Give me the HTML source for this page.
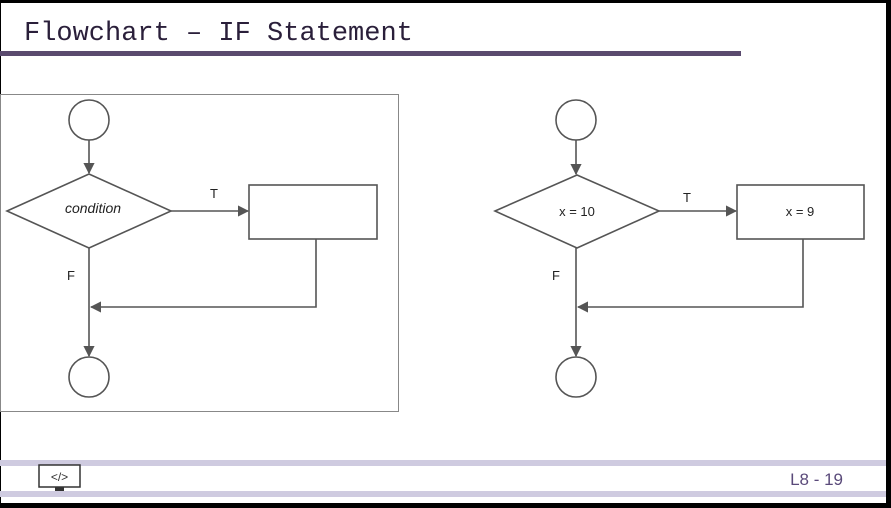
<!DOCTYPE html>
<html><head><meta charset="utf-8"><style>
html,body{margin:0;padding:0;background:#000;}
#slide{position:relative;width:891px;height:508px;overflow:hidden;background:#000;}
svg{position:absolute;left:0;top:0;}
</style></head><body>
<div id="slide">
<svg width="891" height="508" viewBox="0 0 891 508" font-family="Liberation Sans, sans-serif">
<defs><marker id="ah" viewBox="0 0 10 10" refX="9" refY="5" markerWidth="7" markerHeight="7" orient="auto"><path d="M0,0 L10,5 L0,10 z" fill="#555"/></marker></defs>
<rect x="1" y="3" width="885" height="500" fill="#fff"/>
<text x="24" y="40" font-family="Liberation Mono, monospace" font-size="27" fill="#2a1f3a">Flowchart – IF Statement</text>
<rect x="0" y="51" width="741" height="5" fill="#5a4a6e"/>
<g stroke="#555" stroke-width="1.6" fill="none">
<rect x="0.5" y="94.5" width="398" height="317" stroke="#888" stroke-width="1"/>
<circle cx="89" cy="120" r="20"/>
<line x1="89" y1="140" x2="89" y2="173" marker-end="url(#ah)"/>
<polygon points="7,211 89,174 171,211 89,248"/>
<line x1="171" y1="211" x2="248" y2="211" marker-end="url(#ah)"/>
<rect x="249" y="185" width="128" height="54"/>
<polyline points="316,239 316,307 91,307" marker-end="url(#ah)"/>
<line x1="89" y1="248" x2="89" y2="356" marker-end="url(#ah)"/>
<circle cx="89" cy="377" r="20"/>
</g>
<text x="93" y="213" text-anchor="middle" font-size="14" font-style="italic" fill="#222">condition</text>
<text x="214" y="198" text-anchor="middle" font-size="13" fill="#222">T</text>
<text x="71" y="280" text-anchor="middle" font-size="13" fill="#222">F</text>
<g stroke="#555" stroke-width="1.6" fill="none">
<circle cx="576" cy="120" r="20"/>
<line x1="576" y1="140" x2="576" y2="174" marker-end="url(#ah)"/>
<polygon points="495,211 577,175 659,211 577,248"/>
<line x1="659" y1="211" x2="736" y2="211" marker-end="url(#ah)"/>
<rect x="737" y="185" width="127" height="54"/>
<polyline points="803,239 803,307 578,307" marker-end="url(#ah)"/>
<line x1="576" y1="248" x2="576" y2="356" marker-end="url(#ah)"/>
<circle cx="576" cy="377" r="20"/>
</g>
<text x="577" y="216" text-anchor="middle" font-size="13" fill="#222">x = 10</text>
<text x="800" y="216" text-anchor="middle" font-size="13" fill="#222">x = 9</text>
<text x="687" y="202" text-anchor="middle" font-size="13" fill="#222">T</text>
<text x="556" y="280" text-anchor="middle" font-size="13" fill="#222">F</text>
<rect x="0" y="460" width="886" height="6" fill="#cfcbe0"/>
<rect x="0" y="491" width="886" height="6" fill="#cfcbe0"/>
<g>
<rect x="39" y="465" width="41" height="22" fill="#fff" stroke="#333" stroke-width="1.5"/>
<rect x="55" y="487" width="9" height="4" fill="#333"/>
<text x="59.5" y="481" text-anchor="middle" font-size="12" fill="#333">&lt;/&gt;</text>
</g>
<text x="843" y="485" text-anchor="end" font-size="17" fill="#5a4a7a">L8 - 19</text>
</svg>
</div>
</body></html>
